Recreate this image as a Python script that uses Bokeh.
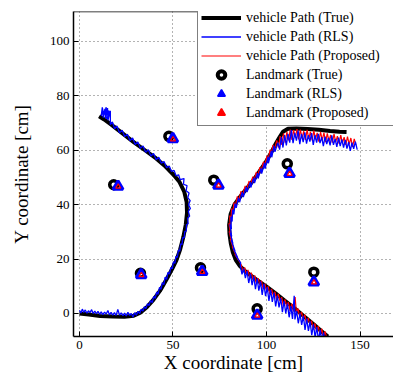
from bokeh.plotting import figure
from bokeh.models import Range1d, FixedTicker, Legend, LegendItem, Span
from bokeh.embed import file_html
from bokeh.resources import INLINE

FONT = "Liberation Serif, DejaVu Serif, Times New Roman, serif"

x_ticks = [0, 50, 100, 150]
y_ticks = [0, 20, 40, 60, 80, 100]

# ---- true vehicle path (two runs) ----
true_left_x = [0, 5, 11, 18, 24, 29, 32.5, 36, 39.5, 43, 46.5, 49.5, 51.8, 53.8, 55.5, 56.8, 57.5, 57.3, 56, 53.5,
               50.3, 46, 41, 35, 29, 23, 17, 13, 10.5]
true_left_y = [0, -0.4, -0.9, -1.1, -1.2, -0.8, 0.3, 2.3, 5, 8.3, 12.5, 16.3, 19.5, 23.5, 28, 32.5, 37, 41, 44.8, 48.3,
               51, 54, 57, 60, 63, 66.2, 69.4, 71.4, 72.5]
true_right_x = [132.8, 129, 125, 120, 115, 110, 105, 100, 95, 91.5, 88.5, 85.8, 83.6, 82.0, 80.9, 80.2, 80.0, 80.8,
                82.8, 86, 89.5, 93, 96.5, 99.5, 102, 104.5, 106.8, 108.8, 111.5, 116, 122, 128, 134, 139, 142.8]
true_right_y = [-8.5, -6.3, -3.9, -1.0, 1.9, 4.6, 7.3, 9.9, 12.3, 14.0, 15.6, 17.4, 19.6, 22.5, 25.8, 29.2, 32.5, 36.5,
                40, 43, 46, 49, 52.5, 55.5, 58.5, 61.8, 64.6, 66.8, 67.9, 68.0, 67.8, 67.5, 67.1, 66.8, 66.7]

# ---- RLS estimated path ----
rls_left_x = [0.0, 0.8, 1.5, 2.3, 3.1, 4.0, 4.8, 5.6, 6.5, 7.3, 8.2, 9.0, 9.9, 10.8, 11.6, 12.5, 13.4, 14.3, 15.2, 16.0,
              16.9, 17.8, 18.7, 19.6, 20.5, 21.4, 22.3, 23.2, 24.1, 25.0, 25.9, 26.8, 27.7, 28.6, 29.5, 30.4, 31.3, 32.2,
              33.0, 33.9, 34.7, 35.5, 36.4, 37.2, 38.0, 38.9, 39.7, 40.5, 41.3, 42.0, 42.8, 43.6, 44.3, 45.1, 45.8, 46.6,
              47.3, 48.1, 48.8, 49.6, 50.2, 51.0, 51.6, 52.3, 52.9, 53.6, 54.1, 54.8, 55.2, 56.0, 56.3, 57.1, 57.2, 58.1,
              57.8, 58.9, 58.2, 59.3, 58.3, 59.2, 57.9, 58.6, 57.0, 57.5, 55.6, 55.9, 53.8, 53.0, 51.6, 50.6, 49.2, 48.0,
              46.6, 45.2, 43.8, 42.4, 41.0, 39.6, 38.2, 36.8, 35.4, 34.0, 32.6, 31.2, 29.8, 28.4, 27.0, 25.6, 24.2, 22.8,
              21.4, 20.0, 18.8, 17.6, 16.5, 16.5, 15.2, 15.0, 14.0, 13.6, 12.7, 12.4, 11.6, 12.2, 13.0, 14.3, 13.8, 15.8,
              14.8, 13.2, 12.0]
rls_left_y = [1.2, 0.2, 1.6, 0.4, 1.3, 0.1, 1.0, 0.3, 1.4, 0.0, 0.9, -0.1, 0.8, -0.3, 0.6, -0.4, 0.5, -0.2, 1.1, -0.5,
              0.4, -0.6, 0.3, -0.7, 1.5, -0.6, 0.2, -0.8, 0.1, -0.9, 0.4, -0.7, 0.0, -1.3, 0.3, -0.6, 0.8, 0.0,
              1.6, 0.9, 2.5, 1.8, 3.6, 2.9, 4.8, 4.0, 6.3, 5.6, 7.9, 7.0, 9.6, 8.9, 11.3, 10.6, 13.4, 12.5,
              15.1, 14.5, 16.9, 16.4, 19.0, 18.4, 21.0, 20.6, 23.3, 22.9, 25.6, 25.3, 27.9, 27.8, 30.2, 30.3, 32.6, 33.0,
              35.0, 35.8, 37.5, 38.6, 40.0, 41.5, 42.6, 44.3, 45.1, 47.0, 47.5, 49.6, 49.2, 51.0, 50.6, 52.6, 52.2, 54.2,
              53.6, 55.9, 55.2, 57.4, 56.5, 58.8, 57.9, 60.2, 59.3, 61.6, 60.7, 63.0, 62.1, 64.5, 63.5, 65.9, 65.0, 67.4,
              66.4, 68.9, 67.9, 70.4, 69.4, 74.5, 71.0, 75.5, 71.6, 75.2, 72.0, 74.8, 72.6, 75.8, 73.0, 75.8, 72.2, 74.6,
              71.5, 74.2, 73.4]

rls_right_x = [148.5, 147.5, 146.6, 145.7, 144.8, 143.9, 143.0, 142.1, 141.2, 140.3, 139.4, 138.5, 137.6, 136.7, 135.8,
               134.9, 134.0, 133.1, 132.2, 131.3, 130.4, 129.5, 128.6, 127.7, 126.8, 125.9, 125.0, 124.1, 123.2, 122.3,
               121.4, 120.5, 119.6, 118.7, 117.8, 116.9, 116.0, 115.1, 114.2, 113.3, 112.4, 111.5, 110.6, 109.7, 108.8,
               107.9, 107.0, 106.1,
               104.5, 104.0, 102.8, 102.6, 101.0, 100.9, 99.2, 99.0, 97.4, 97.1, 95.5, 95.2, 93.6, 93.3, 91.6, 91.3,
               89.6, 89.2, 87.6, 87.0, 85.6, 85.0, 83.8, 83.2, 82.5, 81.9, 81.6, 80.9, 81.2, 80.4, 81.4, 80.5, 82.1,
               81.1, 83.2, 82.1, 84.6, 83.5, 86.2,
               86.0, 86.9, 87.8, 88.7, 89.6, 90.5, 91.4, 92.3, 93.2, 94.1, 95.0, 95.9, 96.8, 97.7, 98.6, 99.5, 100.4,
               101.3, 102.2, 103.1, 104.0, 104.9, 105.8, 106.7, 107.6, 108.5, 109.4, 110.3, 111.2, 112.1, 113.0, 113.9,
               114.8, 115.2, 116.1, 117.0, 117.9, 118.8, 119.7, 120.6, 121.5, 122.4, 123.3, 124.2, 125.1, 126.0, 126.9,
               127.8, 128.7, 129.6, 130.5, 131.2]
rls_right_y = [60.2, 63.2, 60.5, 62.8, 59.8, 63.0, 60.6, 63.8, 61.0, 64.0, 61.5, 64.6, 61.2, 64.2, 62.0,
               65.5, 61.8, 64.5, 62.3, 65.0, 61.5, 64.8, 62.6, 66.0, 62.8, 65.6, 62.0, 66.3, 63.2, 65.5,
               62.4, 66.6, 63.0, 66.0, 62.2, 67.2, 63.5, 66.4, 62.6, 67.4, 62.8, 66.0, 61.8, 65.6, 61.0,
               64.8, 60.2, 62.8,
               59.4, 61.6, 57.4, 59.8, 55.2, 57.6, 53.2, 55.4, 51.4, 53.4, 49.6, 51.6, 47.9, 49.9, 46.3, 48.3,
               44.6, 46.5, 42.8, 44.6, 40.9, 42.6, 38.8, 40.4, 36.4, 38.2, 33.8, 35.6, 31.0, 32.8, 28.3, 29.8, 25.6,
               27.0, 22.9, 24.2, 20.5, 21.4, 18.6,
               17.6, 14.4, 16.5, 13.0, 15.6, 11.2, 14.6, 10.4, 13.6, 8.9, 12.8, 8.4, 11.7, 6.8, 10.9, 6.4, 9.7,
               4.6, 8.7, 4.3, 7.7, 2.6, 6.6, 2.2, 5.6, 0.5, 4.6, 0.0, 3.6, -1.4, 2.7, -2.0,
               6.5, -2.2, 1.0, -3.6, 0.0, -4.2, -0.9, -6.0, -1.9, -6.4, -2.9, -8.0, -4.0, -8.8, -5.0,
               -10.0, -6.0, -10.0, -7.0, -10.0]

# ---- Proposed estimated path ----
prop_right_x = [147.8, 146.9, 146.0, 145.1, 144.2, 143.3, 142.4, 141.5, 140.6, 139.7, 138.8, 137.9, 137.0, 136.1, 135.2,
                134.3, 133.4, 132.5, 131.6, 130.7, 129.8, 128.9, 128.0, 127.1, 126.2, 125.3, 124.4, 123.5, 122.6,
                121.7, 120.8, 119.9, 119.0, 118.1, 117.2, 116.3, 115.4, 114.5, 113.6, 112.7, 111.8, 110.9, 110.0,
                109.1, 108.2, 107.3, 106.4, 105.5,
                104.0, 103.5, 102.2, 102.0, 100.4, 100.3, 98.6, 98.4, 96.8, 96.5, 94.9, 94.6, 93.0, 92.7, 91.0, 90.7,
                89.0, 88.6, 87.0, 86.4, 85.0, 84.4, 83.2, 82.6, 81.9, 81.3, 81.0, 80.3, 80.6, 79.9, 80.8, 80.0, 81.5,
                80.6, 82.6, 81.6, 84.0, 83.0, 85.6,
                86.5, 87.4, 88.3, 89.2, 90.1, 91.0, 91.9, 92.8, 93.7, 94.6, 95.5, 96.4, 97.3, 98.2, 99.1, 100.0, 100.9,
                101.8, 102.7, 103.6, 104.5, 105.4, 106.3, 107.2, 108.1, 109.0, 109.9, 110.8, 111.7, 112.6, 113.5,
                114.4, 115.3, 116.0, 116.9, 117.8, 118.7, 119.6, 120.5, 121.4, 122.3, 123.2, 124.1, 125.0, 125.9,
                126.8, 127.7, 128.6, 129.5, 130.4, 131.3, 132.2]
prop_right_y = [62.0, 64.2, 61.2, 64.5, 62.2, 65.0, 62.0, 64.8, 62.6, 65.6, 62.4, 65.2, 63.0, 66.0, 62.8,
                65.6, 63.4, 66.2, 63.0, 66.5, 63.6, 66.8, 63.2, 66.4, 64.0, 67.2, 63.6, 66.8, 64.2,
                67.5, 63.8, 67.0, 64.4, 67.6, 64.0, 67.8, 64.6, 67.4, 63.8, 67.6, 63.6, 66.8, 62.8,
                66.2, 62.0, 65.2, 61.0, 63.6,
                59.8, 62.0, 57.8, 60.2, 55.6, 58.0, 53.6, 55.8, 51.8, 53.8, 50.0, 52.0, 48.3, 50.3, 46.7, 48.7,
                45.0, 46.9, 43.2, 45.0, 41.3, 43.0, 39.2, 40.8, 36.8, 38.6, 34.2, 36.0, 31.4, 33.2, 28.7, 30.2, 26.0,
                27.4, 23.3, 24.6, 20.9, 21.8, 19.0,
                17.8, 15.6, 16.9, 14.6, 16.0, 13.2, 15.0, 12.4, 14.0, 11.0, 13.0, 10.6, 12.0, 9.0, 11.0, 8.4, 10.0,
                7.0, 9.0, 6.6, 8.0, 5.0, 7.2, 4.6, 6.0, 2.8, 5.2, 2.6, 4.2, 1.0, 3.6,
                0.8, 6.0, 0.2, 1.8, -1.4, 0.6, -2.0, -0.4, -3.6, -1.6, -4.2, -2.6, -5.8, -3.6,
                -6.6, -4.6, -8.0, -5.6, -8.6, -6.6, -9.0]

# ---- landmarks ----
lm_true_x = [47.8, 18.3, 32.6, 64.7, 95.0, 125.3, 71.8, 111.1]
lm_true_y = [65.1, 47.3, 14.8, 16.8, 1.7, 15.2, 49.0, 55.0]
lm_rls_x = [49.9, 20.6, 33.0, 65.6, 95.0, 125.3, 74.3, 112.3]
lm_rls_y = [64.2, 46.7, 14.2, 15.4, -0.7, 11.5, 47.1, 51.4]
lm_prop_x = [50.0, 20.7, 33.1, 65.7, 95.1, 125.4, 74.4, 112.4]
lm_prop_y = [64.0, 46.6, 14.1, 15.3, -0.8, 11.4, 47.0, 51.3]

labels = ["vehicle Path (True)", "vehicle Path (RLS)", "vehicle Path (Proposed)",
          "Landmark (True)", "Landmark (RLS)", "Landmark (Proposed)"]

Y_TOP = 111.0
p = figure(width=393, height=381, x_range=Range1d(-3.2, 167.9), y_range=Range1d(-8.46, Y_TOP),
           output_backend="svg", toolbar_location=None,
           min_border_left=73, min_border_right=0, min_border_top=11, min_border_bottom=45)
p.outline_line_color = None
p.background_fill_color = "white"
p.border_fill_color = "white"

for ax, tk in ((p.xaxis[0], x_ticks), (p.yaxis[0], y_ticks)):
    ax.ticker = FixedTicker(ticks=tk)
    ax.axis_line_color = "black"
    ax.axis_line_width = 1.5
    ax.major_tick_in = 5
    ax.major_tick_out = 0
    ax.major_tick_line_color = "black"
    ax.minor_tick_line_color = None
    ax.major_label_text_font = FONT
    ax.major_label_text_font_size = "13px"
    ax.major_label_text_color = "black"
    ax.major_label_standoff = 4
    ax.axis_label_text_font = FONT
    ax.axis_label_text_font_size = "19px"
    ax.axis_label_text_font_style = "normal"
    ax.axis_label_text_color = "black"

p.xaxis.axis_label = "X coordinate [cm]"
p.yaxis.axis_label = "Y coordinate [cm]"
p.xaxis.axis_label_standoff = 0
p.yaxis.axis_label_standoff = 15

p.xgrid.ticker = FixedTicker(ticks=x_ticks)
p.ygrid.ticker = FixedTicker(ticks=y_ticks)
for g in (p.xgrid[0], p.ygrid[0]):
    g.grid_line_color = "#666666"
    g.grid_line_dash = "1 3"
    g.grid_line_width = 1

p.add_layout(Span(location=Y_TOP, dimension="width", line_color="black", line_width=1.5))

r_true = p.multi_line(xs=[true_left_x, true_right_x], ys=[true_left_y, true_right_y],
                      line_color="black", line_width=4)
r_prop = p.line(prop_right_x, prop_right_y, line_color="red", line_width=1.2)
r_rls = p.multi_line(xs=[rls_left_x, rls_right_x], ys=[rls_left_y, rls_right_y], line_color="blue", line_width=1.3)

p.scatter(lm_true_x, lm_true_y, marker="circle", size=8, fill_color=None, line_color="black", line_width=3.5)
p.scatter(lm_rls_x, lm_rls_y, marker="triangle", size=10, fill_color=None, line_color="blue", line_width=3)
p.scatter(lm_prop_x, lm_prop_y, marker="triangle", size=5, fill_color=None, line_color="red", line_width=1.2)

# legend-only glyphs (placed far outside the visible ranges)
off = [-1000]
lg_circle = p.scatter(off, off, marker="circle", size=8, fill_color=None, line_color="black", line_width=4)
lg_tri_b = p.scatter(off, off, marker="triangle", size=11, fill_color="blue", line_color="blue", line_width=1.5)
lg_tri_r = p.scatter(off, off, marker="triangle", size=11, fill_color="red", line_color="red", line_width=1.5)

legend = Legend(items=[LegendItem(label=labels[0], renderers=[r_true]),
                       LegendItem(label=labels[1], renderers=[r_rls]),
                       LegendItem(label=labels[2], renderers=[r_prop]),
                       LegendItem(label=labels[3], renderers=[lg_circle]),
                       LegendItem(label=labels[4], renderers=[lg_tri_b]),
                       LegendItem(label=labels[5], renderers=[lg_tri_r])],
                location=(124, 210), orientation="vertical", padding=3, spacing=0, margin=0,
                label_height=19, glyph_height=19, glyph_width=40, label_standoff=5, label_width=160,
                border_line_color="black", border_line_width=1, background_fill_color="white",
                background_fill_alpha=1, label_text_font=FONT, label_text_font_size="14px",
                label_text_color="black")
p.add_layout(legend)

open("out.html", "w").write(file_html(p, INLINE))
